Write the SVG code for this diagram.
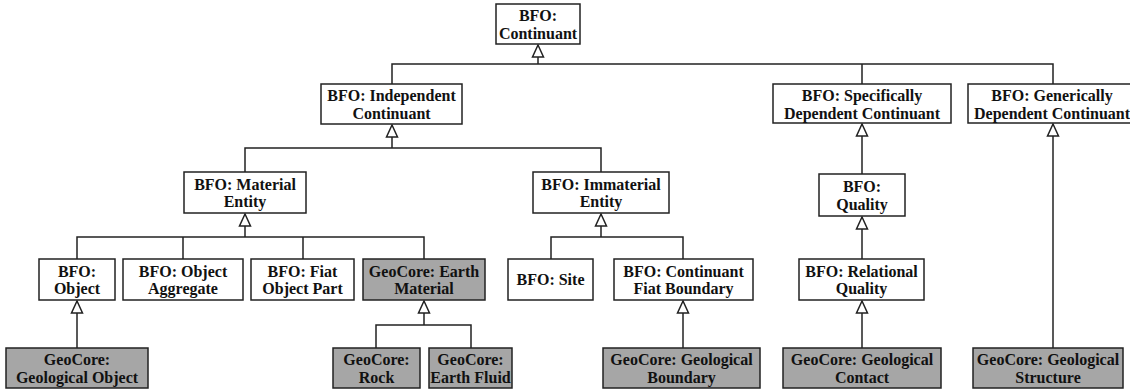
<svg xmlns="http://www.w3.org/2000/svg" width="1130" height="391" viewBox="0 0 1130 391">
<style>
.box{fill:#ffffff;stroke:#222;stroke-width:1.5}
.geo{fill:#a6a6a6;stroke:#222;stroke-width:1.5}
text{font-family:"Liberation Serif","Times New Roman",serif;font-weight:bold;font-size:16px;fill:#111;text-anchor:middle}
.c{fill:none;stroke:#222;stroke-width:1.5}
.a{marker-end:url(#tri)}
</style>
<defs>
<marker id="tri" markerUnits="userSpaceOnUse" markerWidth="14" markerHeight="14" refX="12" refY="5.5" orient="auto" overflow="visible">
<path d="M12,5.5 L0,0 L0,11 Z" fill="#fff" stroke="#222" stroke-width="1.5"/>
</marker>
</defs>
<rect width="1130" height="391" fill="#fff"/>
<g id="connectors">
<path class="c a" d="M538,64 V45"/>
<path class="c" d="M392,84 V64 H1053 V84 M862,64 V84"/>
<path class="c a" d="M392,148 V125"/>
<path class="c" d="M245,172 V148 H601 V172"/>
<path class="c a" d="M245,237 V214"/>
<path class="c" d="M77,259 V237 H424 V259 M183,237 V259 M303,237 V259"/>
<path class="c a" d="M601,237 V214"/>
<path class="c" d="M551,259 V237 H683 V259"/>
<path class="c a" d="M862,174 V124"/>
<path class="c a" d="M862,259 V217"/>
<path class="c a" d="M1053,348 V124"/>
<path class="c a" d="M77,348 V301"/>
<path class="c a" d="M424,325 V301"/>
<path class="c" d="M376,348 V325 H471 V348"/>
<path class="c a" d="M683,348 V301"/>
<path class="c a" d="M862,348 V301"/>
</g>
<g id="continuant"><rect class="box" x="496" y="4" width="84" height="40"/><text x="538" y="21">BFO:</text><text x="538" y="39">Continuant</text></g>
<g id="independent"><rect class="box" x="321" y="84" width="141" height="40"/><text x="391.5" y="101">BFO: Independent</text><text x="391.5" y="119">Continuant</text></g>
<g id="specdep"><rect class="box" x="773" y="84" width="178" height="39"/><text x="862" y="101">BFO: Specifically</text><text x="862" y="118.5">Dependent Continuant</text></g>
<g id="gendep"><rect class="box" x="968" y="84" width="172" height="39"/><text x="1052" y="101">BFO: Generically</text><text x="1052" y="118.5">Dependent Continuant</text></g>
<g id="material"><rect class="box" x="184" y="172" width="122" height="41"/><text x="245" y="189.5">BFO: Material</text><text x="245" y="207">Entity</text></g>
<g id="immaterial"><rect class="box" x="533" y="172" width="136" height="41"/><text x="601" y="189.5">BFO: Immaterial</text><text x="601" y="207">Entity</text></g>
<g id="quality"><rect class="box" x="819" y="174" width="86" height="42"/><text x="862" y="192">BFO:</text><text x="862" y="209.5">Quality</text></g>
<g id="object"><rect class="box" x="39" y="259" width="76" height="41"/><text x="77" y="276.5">BFO:</text><text x="77" y="294">Object</text></g>
<g id="aggregate"><rect class="box" x="123" y="259" width="120" height="41"/><text x="183" y="276.5">BFO: Object</text><text x="183" y="294">Aggregate</text></g>
<g id="fiatpart"><rect class="box" x="251" y="259" width="103" height="41"/><text x="302.5" y="276.5">BFO: Fiat</text><text x="302.5" y="294">Object Part</text></g>
<g id="earthmaterial"><rect class="geo" x="363" y="259" width="122" height="41"/><text x="424" y="276.5">GeoCore: Earth</text><text x="424" y="294">Material</text></g>
<g id="site"><rect class="box" x="508" y="259" width="85" height="41"/><text x="550.5" y="285">BFO: Site</text></g>
<g id="fiatboundary"><rect class="box" x="614" y="259" width="139" height="41"/><text x="683.5" y="276.5">BFO: Continuant</text><text x="683.5" y="294">Fiat Boundary</text></g>
<g id="relational"><rect class="box" x="799" y="259" width="125" height="41"/><text x="861.5" y="276.5">BFO: Relational</text><text x="861.5" y="294">Quality</text></g>
<g id="geoobject"><rect class="geo" x="6" y="348" width="142" height="40"/><text x="77" y="365">GeoCore:</text><text x="77" y="382.5">Geological Object</text></g>
<g id="rock"><rect class="geo" x="333" y="348" width="87" height="40"/><text x="376.5" y="365">GeoCore:</text><text x="376.5" y="382.5">Rock</text></g>
<g id="earthfluid"><rect class="geo" x="429" y="348" width="83" height="40"/><text x="470.5" y="365">GeoCore:</text><text x="470.5" y="382.5">Earth Fluid</text></g>
<g id="geoboundary"><rect class="geo" x="603" y="348" width="157" height="40"/><text x="681.5" y="365">GeoCore: Geological</text><text x="681.5" y="382.5">Boundary</text></g>
<g id="geocontact"><rect class="geo" x="783" y="348" width="158" height="40"/><text x="862" y="365">GeoCore: Geological</text><text x="862" y="382.5">Contact</text></g>
<g id="geostructure"><rect class="geo" x="973" y="348" width="150" height="40"/><text x="1048" y="365">GeoCore: Geological</text><text x="1048" y="382.5">Structure</text></g>
</svg>
